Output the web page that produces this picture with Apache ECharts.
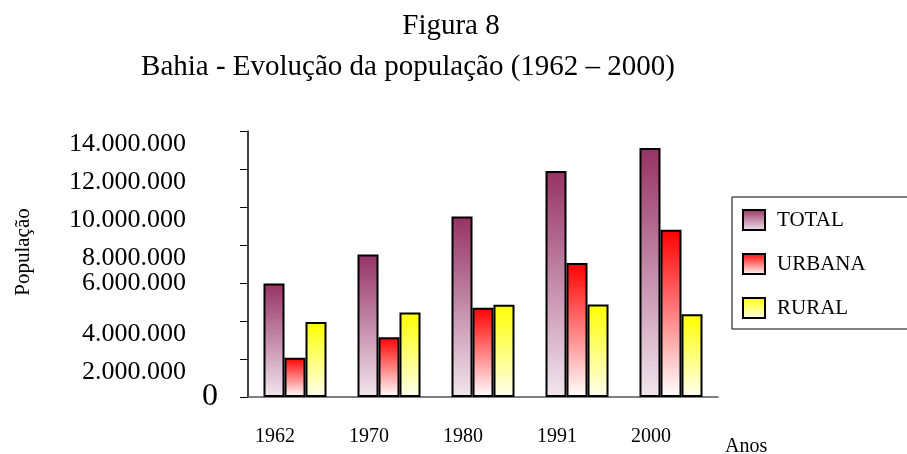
<!DOCTYPE html>
<html>
<head>
<meta charset="utf-8">
<script src="https://cdn.jsdelivr.net/npm/echarts@6/dist/echarts.min.js"></script>
<style>
  html, body { margin: 0; padding: 0; background: #fff; }
  #chart { width: 907px; height: 454px; }
</style>
</head>
<body>
<div id="chart"></div>
<script>
// dados
var anos = ['1962', '1970', '1980', '1991', '2000'];
var total = [5980000, 7500000, 9500000, 11900000, 13100000];
var urbana = [2070000, 3150000, 4700000, 7050000, 8800000];
var rural = [3950000, 4450000, 4850000, 4870000, 4350000];
var yMin = 0, yMax = 14000000, yStep = 2000000;

var serif = '"Liberation Serif", "Times New Roman", serif';

function fmt(v) {
	return String(v).replace(/\B(?=(\d{3})+(?!\d))/g, '.');
}

function grad(top, bottom) {
	return new echarts.graphic.LinearGradient(0, 0, 0, 1, [
		{ offset: 0, color: top },
		{ offset: 1, color: bottom }
	]);
}

function serie(nome, dados, c1, c2) {
	return {
		name: nome,
		type: 'bar',
		data: dados,
		barWidth: 21,
		barGap: '0%',
		itemStyle: {
			color: grad(c1, c2),
			borderColor: '#000',
			borderWidth: 2
		}
	};
}

var myChart = echarts.init(document.getElementById('chart'));
var option = {
	animation: false,
	backgroundColor: '#fff',
	title: [{
		text: 'Figura 8',
		left: 446, top: 7, textAlign: 'center',
		textStyle: { fontFamily: serif, fontSize: 29, fontWeight: 'normal', color: '#000' }
	}, {
		text: 'Bahia - Evolução da população (1962 – 2000)',
		left: 403, top: 48, textAlign: 'center',
		textStyle: { fontFamily: serif, fontSize: 29, fontWeight: 'normal', color: '#000' }
	}],
	legend: {
		orient: 'vertical',
		left: 732, top: 197,
		padding: [12, 60, 10, 10],
		borderColor: '#000', borderWidth: 1,
		itemWidth: 22, itemHeight: 20, itemGap: 22,
		icon: 'rect',
		textStyle: { fontFamily: serif, fontSize: 21, lineHeight: 20, color: '#000', padding: [0, 0, 0, 7] },
		data: ['TOTAL', 'URBANA', 'RURAL']
	},
	grid: { left: 248, right: 189, top: 131, bottom: 57, outerBoundsMode: 'none' },
	xAxis: {
		type: 'category',
		data: anos,
		name: 'Anos',
		nameLocation: 'end',
		nameGap: 7,
		nameTextStyle: { fontFamily: serif, fontSize: 20, color: '#000', verticalAlign: 'top', padding: [40, 0, 0, 0] },
		axisLine: { lineStyle: { color: '#555', width: 1.5 } },
		axisTick: { length: 8, lineStyle: { color: '#000' } },
		axisLabel: { fontFamily: serif, fontSize: 20, color: '#000', margin: 30, padding: [0, 40, 0, 0] }
	},
	yAxis: {
		type: 'value',
		min: yMin, max: yMax, interval: yStep,
		name: 'População',
		nameLocation: 'middle',
		nameGap: 214,
		nameTextStyle: { fontFamily: serif, fontSize: 21, color: '#000', padding: [0, 0, 0, 24] },
		splitLine: { show: false },
		axisLine: { show: true, lineStyle: { color: '#000', width: 1.5 } },
		axisTick: { show: true, length: 8, lineStyle: { color: '#000' } },
		axisLabel: {
			margin: 30,
			formatter: function (v) {
				if (v === 0) return '{z|0}';
				if (v === 6000000) return '{s|' + fmt(v) + '}';
				return '{n|' + fmt(v) + '}';
			},
			rich: {
				n: { fontFamily: serif, fontSize: 26, color: '#000', padding: [26, 32, 0, 0] },
				s: { fontFamily: serif, fontSize: 26, color: '#000', padding: [0, 32, 0, 0] },
				z: { fontFamily: serif, fontSize: 32, color: '#000' }
			}
		}
	},
	series: [
		serie('TOTAL', total, '#963264', '#f2e6ee'),
		serie('URBANA', urbana, '#ff0000', '#ffffff'),
		serie('RURAL', rural, '#ffff00', '#fffff0')
	]
};
myChart.setOption(option);
</script>
</body>
</html>
